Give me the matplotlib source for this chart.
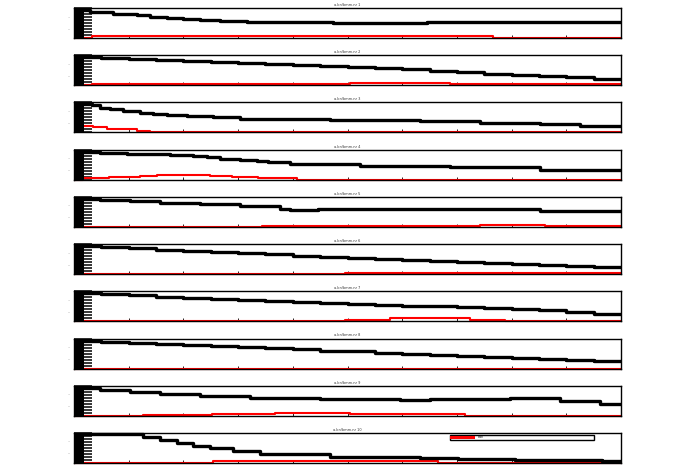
import matplotlib
matplotlib.use("Agg")
import matplotlib.pyplot as plt
from matplotlib.patches import Patch

# ---------------- data (x in 0..100, y in 0..100) ----------------
titles = [f"a.bn/bmm.nr {i}" for i in range(1, 11)]

steps20 = [0, 5, 10, 15, 20, 25, 30, 35, 40, 45, 50, 55, 60, 65, 70, 75, 80, 85, 90, 95, 100]

black_x1 = [0, 2.9, 7.1, 11.5, 13.9, 17.0, 19.9, 23.0, 26.7, 31.6, 37.7, 47.3, 64.5, 100]
black_y1 = [93, 88, 81, 77, 71, 67, 63, 61, 58, 54, 52, 49, 53, 53]
red_x1 = [0, 3.3, 76.6, 100]
red_y1 = [0, 6, 0, 0]

black_x2 = steps20
black_y2 = [93, 90, 87, 84, 80, 76, 73, 70, 67, 64, 60, 57, 53, 48, 43, 39, 35, 30, 26, 20, 20]
red_x2 = [0, 3.3, 50.5, 68.7, 100]
red_y2 = [0, 3, 8, 5, 5]

black_x3 = [0, 3.3, 4.8, 6.6, 9.0, 12.1, 14.4, 17.0, 20.7, 25.4, 30.3, 34.0, 46.8, 63.3, 74.2, 85.2, 92.5, 100]
black_y3 = [96, 91, 83, 79, 73, 66, 61, 57, 54, 50, 46, 45, 42, 38, 33, 28, 23, 23]
red_x3 = [0, 3.5, 6.0, 9.0, 11.5, 13.9, 20.7, 100]
red_y3 = [20, 17, 13, 10, 6, 2, 0, 0]

black_x4 = [0, 4.8, 9.7, 17.6, 21.8, 24.3, 26.7, 30.3, 33.5, 35.5, 39.5, 44.4, 52.3, 68.7, 85.2, 100]
black_y4 = [92, 88, 84, 82, 78, 74, 70, 67, 63, 60, 53, 52, 47, 43, 33, 33]
red_x4 = [0, 1.6, 6.4, 12.1, 15.2, 24.9, 28.9, 33.6, 40.8, 100]
red_y4 = [0, 5, 8, 12, 15, 12, 9, 7, 0, 0]

black_x5 = [0, 4.8, 10.2, 15.7, 23.0, 30.3, 37.7, 39.5, 44.6, 85.2, 100]
black_y5 = [93, 90, 85, 80, 75, 68, 60, 57, 60, 53, 53]
red_x5 = [0, 34.4, 74.2, 86.1, 100]
red_y5 = [0, 3, 5, 2, 2]

black_x6 = steps20
black_y6 = [93, 90, 86, 82, 78, 74, 70, 66, 62, 58, 55, 51, 48, 45, 42, 38, 35, 32, 28, 23, 23]
red_x6 = [0, 49.5, 100]
red_y6 = [0, 5, 5]

black_x7 = steps20
black_y7 = [93, 90, 87, 82, 78, 73, 70, 67, 64, 60, 57, 55, 52, 50, 47, 44, 42, 37, 32, 25, 25]
red_x7 = [0, 49.5, 57.8, 72.4, 78.8, 100]
red_y7 = [0, 5, 10, 5, 0, 0]

black_x8 = steps20
black_y8 = [93, 90, 86, 83, 80, 76, 72, 68, 64, 60, 57, 53, 50, 46, 43, 40, 36, 33, 29, 25, 25]
red_x8 = [0, 100]
red_y8 = [0, 0]

black_x9 = [0, 4.8, 10.2, 15.7, 23.0, 32.2, 45.0, 59.6, 65.1, 79.7, 88.8, 96.2, 100]
black_y9 = [93, 87, 80, 73, 67, 60, 55, 53, 57, 60, 50, 40, 40]
red_x9 = [0, 12.6, 25.2, 36.7, 50.5, 71.5, 100]
red_y9 = [0, 2, 5, 8, 5, 0, 0]

black_x10 = [0, 5.3, 12.6, 15.7, 18.8, 21.8, 24.9, 29.1, 34.0, 46.8, 63.3, 70.2, 80.6, 90.1, 96.5, 100]
black_y10 = [96, 97, 87, 77, 67, 57, 50, 40, 30, 20, 16, 13, 10, 9, 7, 7]
red_x10 = [0, 25.4, 66.5, 100]
red_y10 = [0, 5, 0, 0]

legend_label = "a.bn"

black_xs = [black_x1, black_x2, black_x3, black_x4, black_x5, black_x6, black_x7, black_x8, black_x9, black_x10]
black_ys = [black_y1, black_y2, black_y3, black_y4, black_y5, black_y6, black_y7, black_y8, black_y9, black_y10]
red_xs = [red_x1, red_x2, red_x3, red_x4, red_x5, red_x6, red_x7, red_x8, red_x9, red_x10]
red_ys = [red_y1, red_y2, red_y3, red_y4, red_y5, red_y6, red_y7, red_y8, red_y9, red_y10]

# ---------------- figure ----------------
W, H = 696, 472
fig = plt.figure(figsize=(W / 100, H / 100), dpi=100)
fig.subplots_adjust(left=74 / W, right=621 / W, top=1 - 8 / H, bottom=1 - 463 / H, hspace=0.573)
axes = fig.subplots(10, 1)

for i, ax in enumerate(axes):
    ax.set_xlim(0, 100)
    ax.set_ylim(0, 100)
    ax.plot(black_xs[i], black_ys[i], color="black", lw=2.4, drawstyle="steps-post",
            solid_capstyle="butt", clip_on=False, zorder=3)
    ax.plot(red_xs[i], red_ys[i], color="#ff0000", lw=1.5, drawstyle="steps-post",
            solid_capstyle="butt", clip_on=False, zorder=2)
    ax.axvspan(0, 10 / 547 * 100, color="black", lw=0, zorder=4)
    ax.set_yticks(range(0, 101, 10))
    ax.set_yticklabels(["" if v not in (30, 70) else str(v) for v in range(0, 101, 10)],
                       fontsize=1, color="#999999")
    ax.tick_params(axis="y", direction="in", length=13, width=1.1, pad=3, color="black")
    ax.set_xticks(range(0, 101, 10))
    ax.set_xticklabels([])
    ax.tick_params(axis="x", direction="in", length=2, width=0.6)
    for s in ax.spines.values():
        s.set_linewidth(1.0)
        s.set_zorder(5)
    ax.set_title(titles[i], fontsize=2.5, pad=1.5, color="#333333")

leg = axes[-1].legend(handles=[Patch(facecolor="#ff0000", edgecolor="none")],
                      labels=[legend_label], fontsize=2,
                      bbox_to_anchor=(0.687, 0.767, 0.264, 0.2), mode="expand",
                      loc="lower left", borderaxespad=0, handlelength=9, handleheight=1.5,
                      borderpad=0.2, fancybox=False, framealpha=1)
leg.get_frame().set_edgecolor("black")
leg.get_frame().set_linewidth(1.0)

fig.savefig("out.png", dpi=100)
